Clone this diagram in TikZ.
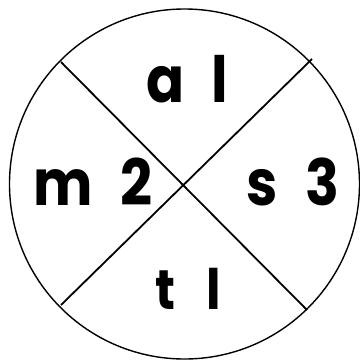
\documentclass[tikz,border=0pt]{standalone}
\usepackage{fontspec}
\setmainfont[FakeStretch=0.88]{Poppins}
\begin{document}
\begin{tikzpicture}[x=1bp,y=-1bp,
  lbl/.style={font=\fontsize{64}{64}\selectfont\bfseries, inner sep=0pt, anchor=base,
    execute at begin node={\spaceskip=0.42em\relax}},
  edge/.style={line width=1.8bp}]
\useasboundingbox (0,0) rectangle (360,361);
\node[draw, circle, line width=1.4bp, minimum size=350bp, inner sep=0pt] (c) at (184.5,184) {};
\coordinate (p1) at (61,62);
\coordinate (p2) at (307,310);
\coordinate (p3) at (312,59);
\coordinate (p4) at (61,305);
\draw[edge] (p1) -- (p2);
\draw[edge] (p3) -- (p4);
\node[lbl] (a) at (187,102) {a l};
\node[lbl] (m) at (93,205) {m 2};
\node[lbl] (s) at (293,205) {s 3};
\node[lbl, font=\fontsize{56}{56}\selectfont\bfseries,
  execute at begin node={\spaceskip=0.55em\relax}] (t) at (188,309) {t l};
\end{tikzpicture}
\end{document}
